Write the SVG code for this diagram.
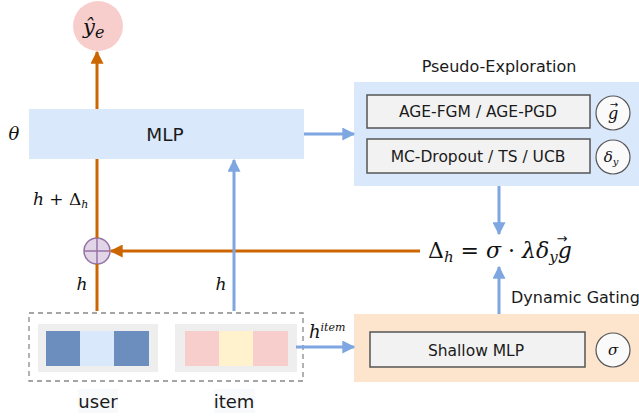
<svg xmlns="http://www.w3.org/2000/svg" width="639" height="417" viewBox="0 0 639 417">
<style>
.lbl{font-family:"DejaVu Sans","Liberation Sans",sans-serif;fill:#1a1a1a}
.math{font-family:"DejaVu Serif","Liberation Serif",serif;font-style:italic;fill:#111}
.vec{font-family:"DejaVu Sans",sans-serif;fill:#111}
.inner{fill:#f2f2f2;stroke:#555;stroke-width:1.5}
.circ{fill:#fafafa;stroke:#555;stroke-width:1.2}
.or{stroke:#cc6600;stroke-width:3;fill:none}
.bl{stroke:#7ea6e0;stroke-width:3;fill:none}
</style>
<defs>
<marker id="aoL" viewBox="0 0 10 10" refX="9" refY="5" markerWidth="19" markerHeight="13" markerUnits="userSpaceOnUse" orient="auto"><path d="M0,0 L10,5 L0,10 z" fill="#cc6600"/></marker>
<marker id="abL" viewBox="0 0 10 10" refX="9" refY="5" markerWidth="17" markerHeight="13" markerUnits="userSpaceOnUse" orient="auto"><path d="M0,0 L10,5 L0,10 z" fill="#7ea6e0"/></marker>
</defs>

<g id="output">
<circle cx="98" cy="26" r="25" fill="#f8cecc"/>
<text x="83" y="34" class="math" font-size="21">ŷ<tspan font-size="16" dy="4">e</tspan></text>
</g>

<g id="mlp">
<rect x="29" y="109" width="275" height="50" fill="#dae8fc"/>
<text x="165" y="141" class="lbl" font-size="18.5" text-anchor="middle">MLP</text>
<text x="14" y="140" class="math" font-size="18" text-anchor="middle">θ</text>
</g>

<g id="pseudo">
<text x="499" y="72" class="lbl" font-size="16" text-anchor="middle">Pseudo-Exploration</text>
<rect x="354" y="82" width="285" height="104" fill="#dae8fc"/>
<rect x="367" y="95" width="223" height="33" class="inner"/>
<text x="478" y="117" class="lbl" font-size="15.5" text-anchor="middle">AGE-FGM / AGE-PGD</text>
<rect x="367" y="139" width="223" height="34" class="inner"/>
<text x="478" y="162" class="lbl" font-size="15.5" text-anchor="middle">MC-Dropout / TS / UCB</text>
<circle cx="613" cy="113" r="17" class="circ"/>
<text x="613" y="119" class="math" font-size="16" text-anchor="middle">g</text>
<text x="614" y="108" class="vec" font-size="10" text-anchor="middle">→</text>
<circle cx="613" cy="157" r="17" class="circ"/>
<text x="611" y="162" class="math" font-size="15" text-anchor="middle">δ<tspan font-size="10" dy="3">y</tspan></text>
</g>

<g id="formula">
<text x="428" y="258" class="math" font-size="22"><tspan font-style="normal">Δ</tspan><tspan font-size="15" dy="4">h</tspan><tspan dy="-4" font-style="normal"> = </tspan>σ<tspan font-style="normal"> · </tspan>λδ<tspan font-size="15" dy="4">y</tspan><tspan dy="-4">g</tspan></text>
<text x="562" y="243" class="vec" font-size="13" text-anchor="middle">→</text>
</g>

<g id="gating">
<text x="511" y="303" class="lbl" font-size="16">Dynamic Gating</text>
<rect x="354" y="314" width="285" height="68" fill="#fde5cd"/>
<rect x="370" y="332" width="215" height="35" class="inner"/>
<text x="476" y="356" class="lbl" font-size="15.5" text-anchor="middle" fill="#333">Shallow MLP</text>
<circle cx="613" cy="350" r="17" class="circ"/>
<text x="613" y="355" class="math" font-size="15" text-anchor="middle">σ</text>
</g>

<g id="plus">
<circle cx="97" cy="251" r="13" fill="#e1d5e7" stroke="#9673a6" stroke-width="1.5"/>
<path d="M84,251 H110 M97,238 V264" stroke="#9673a6" stroke-width="1.5"/>
</g>

<g id="inputs">
<rect x="29" y="313" width="274" height="68" fill="none" stroke="#888" stroke-width="1.3" stroke-dasharray="5,4"/>
<rect x="38" y="324" width="120" height="48" fill="#eeeeee"/>
<rect x="46" y="331" width="34" height="35" fill="#6c8ebf"/>
<rect x="80" y="331" width="34" height="35" fill="#dae8fc"/>
<rect x="114" y="331" width="35" height="35" fill="#6c8ebf"/>
<rect x="175" y="324" width="122" height="48" fill="#eeeeee"/>
<rect x="185" y="331" width="34" height="35" fill="#f8cecc"/>
<rect x="219" y="331" width="34" height="35" fill="#fff2cc"/>
<rect x="253" y="331" width="35" height="35" fill="#f8cecc"/>
<rect x="78" y="389" width="40" height="24" fill="#f8f9fa"/>
<text x="98" y="408" class="lbl" font-size="18" text-anchor="middle">user</text>
<rect x="214" y="389" width="41" height="24" fill="#f8f9fa"/>
<text x="234" y="408" class="lbl" font-size="18" text-anchor="middle">item</text>
</g>

<g id="connectors">
<line x1="97" y1="109" x2="97" y2="52" class="or" marker-end="url(#aoL)"/>
<line x1="97" y1="238" x2="97" y2="159" class="or"/>
<line x1="97" y1="311" x2="97" y2="264" class="or"/>
<line x1="420" y1="251" x2="111" y2="251" class="or" marker-end="url(#aoL)"/>
<line x1="234" y1="311" x2="234" y2="160" class="bl" marker-end="url(#abL)"/>
<line x1="304" y1="134" x2="354" y2="134" class="bl" marker-end="url(#abL)"/>
<line x1="296" y1="347" x2="354" y2="347" class="bl" marker-end="url(#abL)"/>
<line x1="499" y1="186" x2="499" y2="234" class="bl" marker-end="url(#abL)"/>
<line x1="499" y1="314" x2="499" y2="267" class="bl" marker-end="url(#abL)"/>
<text x="33" y="205" class="math" font-size="17">h<tspan font-style="normal"> + Δ</tspan><tspan font-size="11" dy="3">h</tspan></text>
<text x="82" y="290" class="math" font-size="17" text-anchor="middle">h</text>
<text x="221" y="290" class="math" font-size="17" text-anchor="middle">h</text>
<text x="309" y="338" class="math" font-size="18">h<tspan font-size="11" dy="-7">item</tspan></text>
</g>
</svg>
